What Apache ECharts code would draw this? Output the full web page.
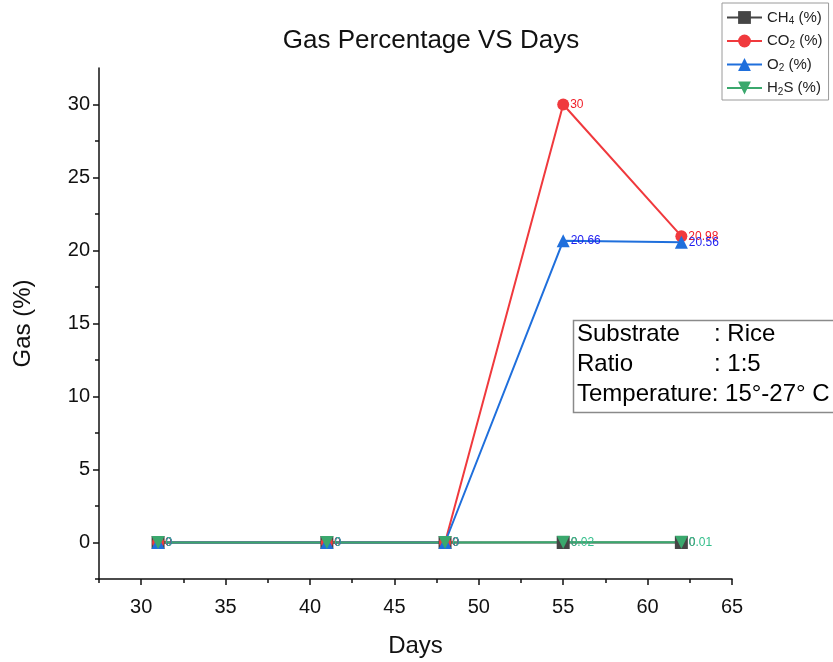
<!DOCTYPE html>
<html>
<head>
<meta charset="utf-8">
<title>Gas Percentage VS Days</title>
<script src="https://cdn.jsdelivr.net/npm/echarts@6/dist/echarts.min.js"></script>
<style>
  html, body { margin: 0; padding: 0; background: #ffffff; }
  #chart { width: 833px; height: 662px; }
</style>
</head>
<body>
<div id="chart"></div>
<script>
// Sampling days and measured gas composition (%)
var days = [31, 41, 48, 55, 62];
var ch4 = [0, 0, 0, 0, 0];
var co2 = [0, 0, 0, 30, 20.98];
var o2  = [0, 0, 0, 20.66, 20.56];
var h2s = [0, 0, 0, 0.02, 0.01];

// Axis tick positions
var xMajorTicks = [30, 35, 40, 45, 50, 55, 60, 65];
var xMinorTicks = [27.5, 32.5, 37.5, 42.5, 47.5, 52.5, 57.5, 62.5];
var yMajorTicks = [0, 5, 10, 15, 20, 25, 30];
var yMinorTicks = [-2.5, 2.5, 7.5, 12.5, 17.5, 22.5, 27.5];

var FONT = '"Liberation Sans", Arial, sans-serif';

function pairs(ys) {
  return days.map(function (d, i) { return [d, ys[i]]; });
}

function makeSeries(name, ys, color, symbol, labelColor) {
  return {
    name: name,
    type: 'line',
    data: pairs(ys),
    symbol: symbol,
    symbolSize: symbol === 'circle' ? 12 : 13,
    lineStyle: { color: color, width: 2 },
    itemStyle: { color: color },
    label: {
      show: true,
      position: 'right',
      distance: 1,
      color: labelColor,
      fontFamily: FONT,
      fontSize: 12
    },
    emphasis: { disabled: true },
    animation: false
  };
}

var chart = echarts.init(document.getElementById('chart'), null, { renderer: 'canvas' });

var legendRich = {
  b: { fontFamily: FONT, fontSize: 15, color: '#222' },
  s: { fontFamily: FONT, fontSize: 10, color: '#222', padding: [8, 0, 0, 0] }
};

var option = {
  backgroundColor: '#ffffff',
  animation: false,
  title: {
    text: 'Gas Percentage VS Days',
    left: 426,
    top: 23,
    textAlign: 'center',
    textStyle: { fontFamily: FONT, fontSize: 26, fontWeight: 'normal', color: '#111' }
  },
  legend: {
    orient: 'vertical',
    left: 722,
    top: 3,
    padding: [7, 6, 3, 4],
    itemGap: 7,
    itemWidth: 35,
    itemHeight: 16,
    borderColor: '#9a9a9a',
    borderWidth: 1,
    borderRadius: 0,
    selectedMode: false,
    data: ['CH4 (%)', 'CO2 (%)', 'O2 (%)', 'H2S (%)'],
    formatter: function (name) {
      var map = {
        'CH4 (%)': '{b|CH}{s|4}{b| (%)}',
        'CO2 (%)': '{b|CO}{s|2}{b| (%)}',
        'O2 (%)': '{b|O}{s|2}{b| (%)}',
        'H2S (%)': '{b|H}{s|2}{b|S (%)}'
      };
      return map[name];
    },
    textStyle: { rich: legendRich }
  },
  grid: { left: 99, right: 101, top: 68, bottom: 83, containLabel: false, outerBoundsMode: 'none' },
  xAxis: [
    {
      type: 'value',
      min: 27.5,
      max: 65,
      name: 'Days',
      nameLocation: 'middle',
      nameGap: 55,
      nameTextStyle: { fontFamily: FONT, fontSize: 24, color: '#111' },
      axisLine: { show: true, onZero: false, lineStyle: { color: '#111', width: 1.5 } },
      axisTick: { show: true, inside: false, length: 6, lineStyle: { color: '#111', width: 1.5 }, customValues: xMajorTicks },
      axisLabel: { show: true, margin: 18, fontFamily: FONT, fontSize: 20, color: '#111', customValues: xMajorTicks },
      splitLine: { show: false }
    },
    {
      type: 'value',
      min: 27.5,
      max: 65,
      position: 'bottom',
      axisLine: { show: false, onZero: false },
      axisTick: { show: true, inside: false, length: 4, lineStyle: { color: '#111', width: 1.5 }, customValues: xMinorTicks },
      axisLabel: { show: false },
      splitLine: { show: false }
    }
  ],
  yAxis: [
    {
      type: 'value',
      min: -2.5,
      max: 32.5,
      name: 'Gas (%)',
      nameLocation: 'middle',
      nameGap: 64,
      nameTextStyle: { fontFamily: FONT, fontSize: 24, color: '#111' },
      axisLine: { show: true, onZero: false, lineStyle: { color: '#111', width: 1.5 } },
      axisTick: { show: true, inside: false, length: 6, lineStyle: { color: '#111', width: 1.5 }, customValues: yMajorTicks },
      axisLabel: { show: true, margin: 9, fontFamily: FONT, fontSize: 20, color: '#111', customValues: yMajorTicks },
      splitLine: { show: false }
    },
    {
      type: 'value',
      min: -2.5,
      max: 32.5,
      position: 'left',
      axisLine: { show: false, onZero: false },
      axisTick: { show: true, inside: false, length: 4, lineStyle: { color: '#111', width: 1.5 }, customValues: yMinorTicks },
      axisLabel: { show: false },
      splitLine: { show: false }
    }
  ],
  graphic: [
    {
      type: 'rect',
      shape: { x: 573.5, y: 320.5, width: 262, height: 92 },
      style: { fill: '#ffffff', stroke: '#8a8a8a', lineWidth: 1.5 },
      z: 100
    },
    {
      type: 'text',
      left: 577,
      top: 322,
      z: 101,
      style: {
        text: '{k|Substrate}{v|: Rice}\n{k|Ratio}{v|: 1:5}\n{v|Temperature: 15°-27° C}',
        rich: {
          k: { fontFamily: FONT, fontSize: 24, color: '#111', width: 137, lineHeight: 30 },
          v: { fontFamily: FONT, fontSize: 24, color: '#111', lineHeight: 30 }
        }
      }
    }
  ],
  series: [
    makeSeries('CH4 (%)', ch4, '#454545', 'rect', '#454545'),
    makeSeries('CO2 (%)', co2, '#f0393d', 'circle', '#f01e28'),
    makeSeries('O2 (%)', o2, '#1f6fdc', 'triangle', '#1d1df0'),
    (function () {
      var s = makeSeries('H2S (%)', h2s, '#3aa86d', 'triangle', '#35bf8c');
      s.symbolRotate = 180;
      return s;
    })()
  ]
};

chart.setOption(option);
</script>
</body>
</html>
